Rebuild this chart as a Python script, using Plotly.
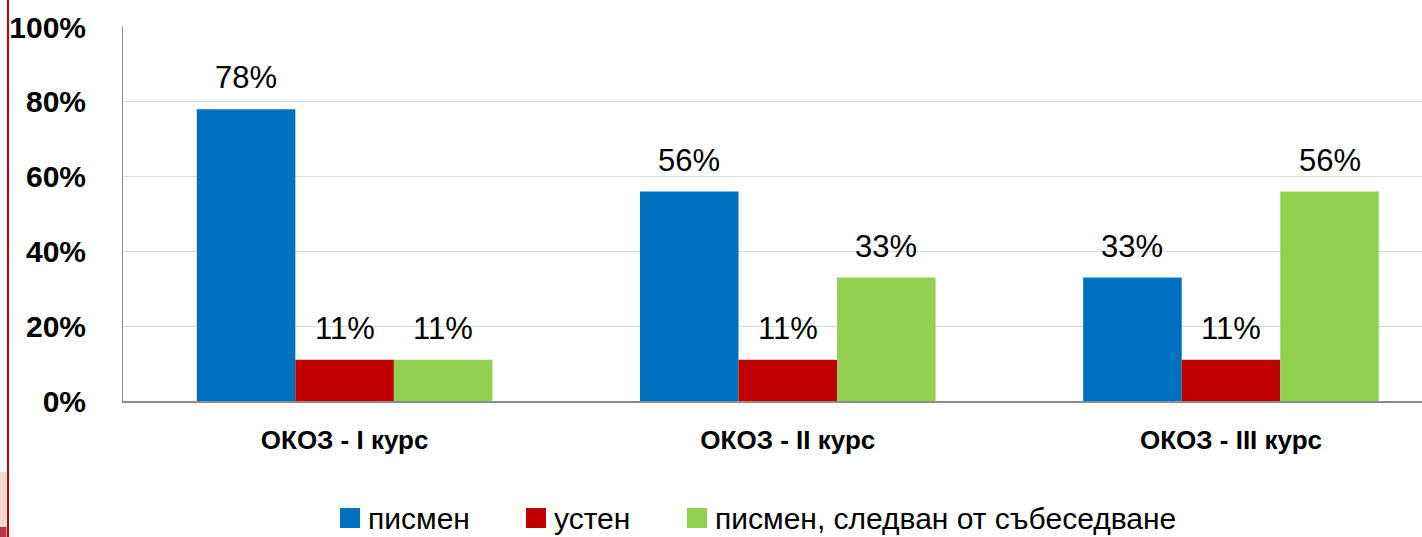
import plotly.graph_objects as go

categories = ["ОКОЗ - I курс", "ОКОЗ - II курс", "ОКОЗ - III курс"]
series_names = ["писмен", "устен", "писмен, следван от събеседване"]
series_values = [[78, 56, 33], [11, 11, 11], [11, 33, 56]]
series_colors = ["#0070C0", "#C00000", "#92D050"]
y_ticks = [0, 20, 40, 60, 80, 100]
y_ticktext = ["0%", "20%", "40%", "60%", "80%", "100%"]

FONT = "Liberation Sans, Arial, sans-serif"
W, H = 1422, 537
L, R, T, B = 123, 0, 27, 136
BARGAP = 0.333
xs = list(range(len(categories)))

fig = go.Figure()
nser = len(series_names)
bw = (1 - BARGAP) / nser
for j, (name, vals, col) in enumerate(zip(series_names, series_values, series_colors)):
    fig.add_trace(go.Bar(x=xs, y=vals, name=name, marker=dict(color=col, line=dict(width=0)),
                         showlegend=False))
    for i, v in enumerate(vals):
        fig.add_annotation(x=i + (j - (nser - 1) / 2) * bw, y=v, xref="x", yref="y",
                           text=f"{v}%", showarrow=False, yanchor="bottom", yshift=12,
                           font=dict(family=FONT, size=31, color="#000000"))

# manual legend (layout)
pw = W - L - R
ph = H - T - B
def px2x(p):
    return (p - L) / pw
def py2y(p):
    return (H - B - p) / ph

legend_sq_left = [340, 526, 687]
sq = 20
leg_cy = 518
for j, (name, col) in enumerate(zip(series_names, series_colors)):
    x0 = legend_sq_left[j]
    fig.add_shape(type="rect", xref="paper", yref="paper",
                  x0=px2x(x0), x1=px2x(x0 + sq), y0=py2y(leg_cy + sq / 2), y1=py2y(leg_cy - sq / 2),
                  fillcolor=col, line=dict(width=0))
    fig.add_annotation(xref="paper", yref="paper", x=px2x(x0 + sq + 6), y=py2y(leg_cy),
                       xanchor="left", yanchor="middle", showarrow=False, text=name,
                       font=dict(family=FONT, size=30, color="#000000"))

# decorative left red line and corner
fig.add_shape(type="line", xref="paper", yref="paper", x0=px2x(8), x1=px2x(8),
              y0=py2y(0), y1=py2y(H), line=dict(color="#CC0000", width=2))
fig.add_shape(type="rect", xref="paper", yref="paper", x0=px2x(0), x1=px2x(6.5),
              y0=py2y(527), y1=py2y(472), fillcolor="#F6D9CF", line=dict(width=0))
fig.add_shape(type="rect", xref="paper", yref="paper", x0=px2x(0), x1=px2x(6.5),
              y0=py2y(H), y1=py2y(527), fillcolor="#B8364A", line=dict(width=0))

fig.update_layout(
    width=W, height=H, autosize=False,
    margin=dict(l=L, r=R, t=T, b=B, pad=0),
    paper_bgcolor="white", plot_bgcolor="white",
    barmode="group", bargap=BARGAP, bargroupgap=0,
    showlegend=False,
    xaxis=dict(range=[-0.5, 2.431], tickmode="array", tickvals=xs, ticktext=categories,
               showgrid=False, zeroline=False, showline=True, linecolor="#8C8C8C", linewidth=2,
               ticks="", ticklabelstandoff=15,
               tickfont=dict(family=FONT, size=26, color="#000000", weight="bold")),
    yaxis=dict(range=[0, 100], tickmode="array", tickvals=y_ticks, ticktext=y_ticktext,
               showgrid=True, gridcolor="#D9D9D9", gridwidth=1, zeroline=False,
               showline=True, linecolor="#8C8C8C", linewidth=1, ticks="",
               ticklabelstandoff=30,
               tickfont=dict(family=FONT, size=30, color="#000000", weight="bold")),
)

fig.write_html("out.html", config={"displayModeBar": False},
               post_script="document.body.style.margin='0';")
